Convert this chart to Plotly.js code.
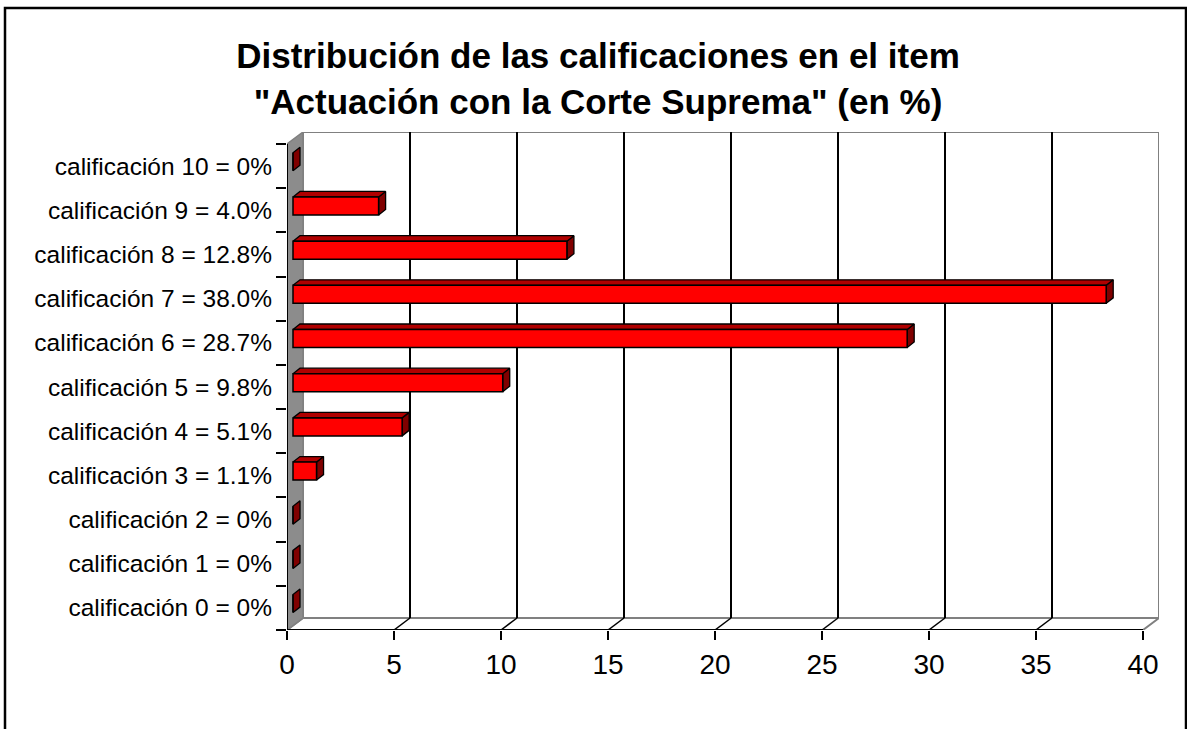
<!DOCTYPE html>
<html>
<head>
<meta charset="utf-8">
<script src="https://cdn.plot.ly/plotly-3.0.1.min.js"></script>
<style>html,body{margin:0;padding:0;background:#fff;}#chart{width:1187px;height:729px;}</style>
</head>
<body>
<div id="chart"></div>
<script>
// ---- data ----
const categories = [
  "calificación 0 = 0%", "calificación 1 = 0%", "calificación 2 = 0%",
  "calificación 3 = 1.1%", "calificación 4 = 5.1%", "calificación 5 = 9.8%",
  "calificación 6 = 28.7%", "calificación 7 = 38.0%", "calificación 8 = 12.8%",
  "calificación 9 = 4.0%", "calificación 10 = 0%"
];
const values = [0, 0, 0, 1.1, 5.1, 9.8, 28.7, 38.0, 12.8, 4.0, 0];
const xTickVals = [0, 5, 10, 15, 20, 25, 30, 35, 40];
const xTickText = ["0", "5", "10", "15", "20", "25", "30", "35", "40"];

// ---- geometry (pixels) ----
const W = 1187, H = 729;
const plotL = 287, plotR = 1159, plotT = 132, plotB = 630;
const xMax = 40;
const pxPerX = (1143 - plotL) / xMax;            // front axis 0..40
const nCat = categories.length;
const pxPerY = (plotB - 144) / nCat;             // front category band
const depthX = 16, depthY = 12;                  // back wall offset
const barShiftX = 6, barShiftY = 4.3;            // bar front face offset
const barDepthX = 7, barDepthY = 5.5;            // bar depth
const barH = 18;                                 // bar face height

const ux = p => p / pxPerX, uy = p => p / pxPerY;
const xRange = [0, ux(plotR - plotL)];
const yRange = [-0.5, -0.5 + uy(plotB - plotT)];
const dX = ux(depthX), dY = uy(depthY);
const yLo = -0.5, yHi = nCat - 0.5;

// ---- bar faces ----
const bx0 = ux(barShiftX), byS = uy(barShiftY), bh = uy(barH);
const bdx = ux(barDepthX), bdy = uy(barDepthY);
const topX = [], topY = [], sideX = [], sideY = [];
values.forEach((v, i) => {
  const yb = i + byS - bh / 2, yt = i + byS + bh / 2;
  const xe = bx0 + v;
  if (v > 0) {
    topX.push(bx0, xe, xe + bdx, bx0 + bdx, bx0, null);
    topY.push(yt, yt, yt + bdy, yt + bdy, yt, null);
  }
  sideX.push(xe, xe, xe + bdx, xe + bdx, xe, null);
  sideY.push(yb, yt, yt + bdy, yb + bdy, yb, null);
});

const traces = [
  {type: 'scatter', x: sideX, y: sideY, mode: 'lines', fill: 'toself',
   fillcolor: '#800000', line: {color: '#000', width: 1.3}, hoverinfo: 'skip', showlegend: false},
  {type: 'scatter', x: topX, y: topY, mode: 'lines', fill: 'toself',
   fillcolor: '#B00000', line: {color: '#000', width: 1.3}, hoverinfo: 'skip', showlegend: false},
  {type: 'bar', orientation: 'h', x: values, y: values.map((v, i) => i + byS),
   base: bx0, width: bh, yaxis: 'y2',
   marker: {color: '#FF0000', line: {color: '#000', width: 1.5}},
   hoverinfo: 'x', showlegend: false}
];

// ---- walls, floor, gridlines ----
const gray = '#808080';
const shapes = [];
// back wall
shapes.push({type: 'rect', xref: 'x', yref: 'y', layer: 'below',
  x0: dX, x1: xMax + dX, y0: yLo + dY, y1: yHi + dY,
  fillcolor: '#fff', line: {color: gray, width: 2}});
// floor
shapes.push({type: 'path', xref: 'x', yref: 'y', layer: 'below',
  path: `M0,${yLo} L${xMax},${yLo} L${xMax + dX},${yLo + dY} L${dX},${yLo + dY} Z`,
  fillcolor: '#fff', line: {color: gray, width: 2}});
// gridlines on back wall and floor
xTickVals.forEach(t => {
  if (t === 0 || t === xMax) return;
  shapes.push({type: 'line', xref: 'x', yref: 'y', layer: 'below',
    x0: t + dX, x1: t + dX, y0: yLo + dY, y1: yHi + dY, line: {color: '#000', width: 2}});
  shapes.push({type: 'line', xref: 'x', yref: 'y', layer: 'below',
    x0: t, x1: t + dX, y0: yLo, y1: yLo + dY, line: {color: '#000', width: 1.5}});
});
// left side wall
shapes.push({type: 'path', xref: 'x', yref: 'y', layer: 'below',
  path: `M0,${yLo} L0,${yHi} L${dX},${yHi + dY} L${dX},${yLo + dY} Z`,
  fillcolor: '#8C8C8C', line: {color: gray, width: 1.5}});
// axis lines
shapes.push({type: 'line', xref: 'x', yref: 'y', layer: 'above',
  x0: 0, x1: 0, y0: yLo, y1: yHi, line: {color: '#000', width: 2}});
shapes.push({type: 'line', xref: 'x', yref: 'y', layer: 'above',
  x0: 0, x1: xMax, y0: yLo, y1: yLo, line: {color: '#000', width: 2}});
// outer frame
const pxX = p => (p - plotL) / (plotR - plotL);
const pxY = p => (plotB - p) / (plotB - plotT);
shapes.push({type: 'rect', xref: 'paper', yref: 'paper', layer: 'above',
  x0: pxX(5), x1: pxX(1186), y0: pxY(8), y1: pxY(760),
  fillcolor: 'rgba(0,0,0,0)', line: {color: '#000', width: 2.5}});

const layout = {
  width: W, height: H,
  margin: {l: plotL, r: W - plotR, t: plotT, b: H - plotB, pad: 0},
  paper_bgcolor: '#fff', plot_bgcolor: 'rgba(0,0,0,0)',
  showlegend: false, hovermode: false,
  title: {
    text: '<b>Distribución de las calificaciones en el item<br>"Actuación con la Corte Suprema" (en %)</b>',
    font: {family: 'Liberation Sans, Arial, sans-serif', size: 35, color: '#000'},
    x: 598 / W, xanchor: 'center', xref: 'container',
    y: 1 - 68 / H, yanchor: 'top', yref: 'container'
  },
  xaxis: {
    range: xRange, showgrid: false, zeroline: false, showline: false,
    tickvals: xTickVals, ticktext: xTickText, ticks: 'outside', ticklen: 9,
    tickwidth: 2, tickcolor: '#000', ticklabelstandoff: 0,
    tickfont: {family: 'Liberation Sans, Arial, sans-serif', size: 28, color: '#000'},
    fixedrange: true
  },
  yaxis: {
    range: yRange, showgrid: false, zeroline: false, showline: false,
    tickvals: categories.map((c, i) => i), ticktext: categories, ticks: '',
    ticklabelstandoff: 14,
    tickfont: {family: 'Liberation Sans, Arial, sans-serif', size: 24.5, color: '#000'},
    fixedrange: true
  },
  yaxis2: {
    overlaying: 'y', side: 'left', range: yRange, showgrid: false, zeroline: false,
    showline: false, showticklabels: false,
    tickvals: categories.map((c, i) => i - 0.5).concat([nCat - 0.5]),
    ticks: 'outside', ticklen: 10, tickwidth: 2, tickcolor: '#000', fixedrange: true
  },
  shapes: shapes,
  bargap: 0
};

Plotly.newPlot('chart', traces, layout, {displayModeBar: false, staticPlot: true});
</script>
</body>
</html>
